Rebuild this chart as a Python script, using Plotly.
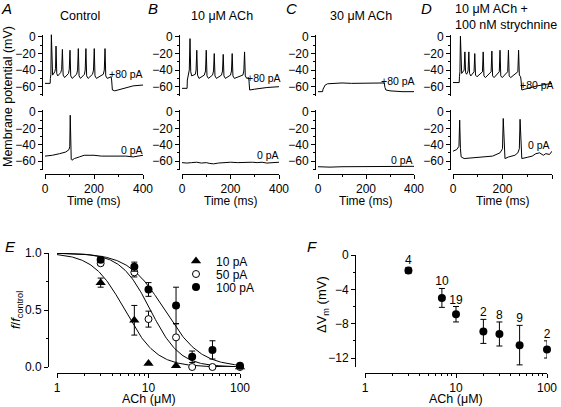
import numpy as np
import plotly.graph_objects as go

W, H = 561, 407
FONT = "Liberation Sans, Arial, sans-serif"


def px(x):
    return x / W


def py(y):
    return 1 - y / H


# ---------------- Top panels: membrane potential traces (t in ms, V in mV) -------------
# A  Control, +80 pA
A_up_t = [0, 21, 22, 24, 26, 28, 31, 40, 43, 45, 48, 52, 64, 68, 71, 74, 80, 96, 99, 102, 105, 111,
          129, 133, 136, 139, 145, 161, 164, 167, 170, 176, 194, 198, 201, 204, 210, 238, 242, 245,
          248, 254, 270, 272, 275, 285, 320, 360, 400]
A_up_v = [-56, -56, -50, -45, 3, -35, -46, -42, -38, -11, -44, -47, -43, -39, -15, -46, -49, -44, -39,
          -16, -47, -50, -45, -40, -14, -47, -50, -45, -40, -14, -47, -50, -45, -40, -14, -47, -50,
          -45, -40, -14, -47, -50, -48, -52, -64, -65, -62, -59, -58]
# A  Control, 0 pA
A_lo_t = [0, 30, 60, 85, 98, 101, 103, 105, 107, 110, 120, 140, 160, 180, 200, 230, 260, 300, 330,
          360, 380, 400]
A_lo_v = [-54, -53, -51, -49, -46, -42, -4, -40, -58, -59, -57, -55, -53, -53, -53, -54, -54, -54,
          -54, -55, -54, -53]

# B  10 uM ACh, +80 pA
B_up_t = [0, 21, 22, 25, 30, 33, 36, 40, 55, 58, 61, 64, 70, 92, 97, 100, 103, 109, 126, 130, 133,
          136, 142, 163, 167, 170, 173, 179, 200, 204, 207, 210, 216, 251, 255, 258, 261, 267, 274,
          276, 279, 300, 350, 400]
B_up_v = [-62, -62, -52, -48, -40, -2, -42, -47, -45, -40, -16, -46, -50, -46, -41, -16, -47, -50,
          -46, -41, -20, -47, -50, -46, -41, -21, -47, -50, -46, -41, -20, -47, -50, -46, -41, -18,
          -47, -50, -49, -52, -64, -63, -61, -60]
# B  10 uM ACh, 0 pA
B_lo_t = [0, 20, 40, 60, 80, 100, 115, 130, 150, 170, 200, 230, 260, 290, 310, 330, 350, 370, 400]
B_lo_v = [-62, -62.5, -62, -61.5, -62.5, -62, -63, -63.5, -62.5, -62, -61.5, -62, -61.5, -61.5, -62,
          -61.5, -62.5, -62, -61.5]

# C  30 uM ACh, +80 pA
C_up_t = [0, 19, 21, 25, 30, 40, 60, 100, 140, 180, 220, 260, 276, 279, 283, 300, 350, 400]
C_up_v = [-66, -66, -63, -60, -58, -56.5, -56, -55.5, -56, -56, -56, -56, -55.5, -61, -64, -65, -66,
          -66]
# C  30 uM ACh, 0 pA
C_lo_t = [0, 50, 100, 150, 200, 250, 300, 350, 400]
C_lo_v = [-67, -67.5, -67, -67, -67, -66.5, -67, -66.5, -66.5]

# D  10 uM ACh + 100 nM strychnine, +80 pA
D_up_t = [0, 25, 26, 28, 30, 32, 35, 45, 48, 51, 55, 61, 64, 67, 72, 85, 88, 91, 97, 119, 122, 125,
          131, 154, 157, 160, 166, 187, 190, 193, 199, 221, 224, 227, 233, 262, 265, 268, 273, 275,
          278, 290, 340, 400]
D_up_v = [-55, -55, -48, -42, 1, -38, -44, -40, -18, -43, -45, -41, -18, -44, -47, -42, -20, -46,
          -48, -42, -18, -47, -49, -42, -17, -47, -49, -42, -16, -47, -49, -42, -16, -47, -49, -42,
          -16, -46, -48, -52, -64, -63, -59, -56]
# D  10 uM ACh + 100 nM strychnine, 0 pA
D_lo_t = [0, 15, 24, 27, 30, 33, 45, 80, 120, 160, 190, 200, 203, 206, 210, 225, 250, 262, 268, 271,
          274, 278, 300, 320, 335, 350, 365, 375, 390, 400]
D_lo_v = [-48, -46, -42, -10, -45, -55, -57, -56, -55.5, -54, -50, -45, -8, -45, -57, -55, -53, -50,
          -45, -9, -45, -57, -55.5, -54, -51, -50, -53, -51, -52, -48]

# ---------------- Panel E: f/f_control vs ACh (uM) ----------------
E10_x = [3, 7, 10, 20, 100]
E10_y = [0.74, 0.41, 0.03, 0.01, 0.0]
E10_e = [0.04, 0.13, 0.0, 0.0, 0.0]

E50_x = [3, 7, 10, 20, 30, 50, 100]
E50_y = [0.91, 0.83, 0.42, 0.26, 0.0, 0.0, 0.0]
E50_ep = [0.02, 0.04, 0.07, 0.12, 0.0, 0.0, 0.0]
E50_em = [0.02, 0.04, 0.07, 0.26, 0.0, 0.0, 0.0]

E100_x = [3, 7, 10, 20, 30, 50, 100]
E100_y = [0.94, 0.88, 0.68, 0.54, 0.09, 0.15, 0.01]
E100_e = [0.02, 0.04, 0.06, 0.16, 0.05, 0.08, 0.0]

# Hill fit parameters (IC50 in uM, Hill coefficient)
FIT_IC50 = {"10 pA": 5.5, "50 pA": 10.5, "100 pA": 15.0}
FIT_N = {"10 pA": 2.5, "50 pA": 2.7, "100 pA": 2.2}

# ---------------- Panel F: delta Vm vs ACh ----------------
F_x = [3, 7, 10, 20, 30, 50, 100]
F_y = [-1.8, -5.0, -6.9, -8.9, -9.2, -10.5, -11.0]
F_e = [0.35, 1.1, 0.9, 1.4, 1.4, 2.3, 1.0]
F_n = ["4", "10", "19", "2", "8", "9", "2"]

# ---------------------------------------------------------------------------------
fig = go.Figure()
LINE = dict(color="black", width=1)

cols = [
    ("A", (45, 143), A_up_t, A_up_v, A_lo_t, A_lo_v),
    ("B", (182, 279), B_up_t, B_up_v, B_lo_t, B_lo_v),
    ("C", (318, 414), C_up_t, C_up_v, C_lo_t, C_lo_v),
    ("D", (453, 552), D_up_t, D_up_v, D_lo_t, D_lo_v),
]

axis_common = dict(showline=True, linecolor="black", linewidth=1, ticks="outside",
                   tickcolor="black", ticklen=4, tickwidth=1, showgrid=False, zeroline=False,
                   automargin=False,
                   tickfont=dict(family=FONT, size=12, color="black"))

layout = dict(width=W, height=H, margin=dict(l=0, r=0, t=0, b=0, autoexpand=False),
              paper_bgcolor="white", plot_bgcolor="white", template="none",
              font=dict(family=FONT, size=12, color="black"))

for i, (lab, (x0, x1), ut, uv, lt, lv) in enumerate(cols):
    xi = i + 1
    yu = i + 1
    yl = i + 5
    layout[f"xaxis{xi}"] = dict(axis_common, domain=[px(x0), px(x1)], range=[0, 400],
                                anchor="free", position=py(174), tickvals=[0, 200, 400],
                                minor=dict(tickvals=[100, 300], ticks="outside", ticklen=2,
                                           tickcolor="black"))
    ymin, ymax = -71, 3
    layout[f"yaxis{yu}"] = dict(axis_common, domain=[py(95.8), py(34.5)], range=[ymin, ymax],
                                anchor="free", position=px(x0 - 3), tickvals=[0, -20, -40, -60],
                                minor=dict(tickvals=[-10, -30, -50, -70], ticks="outside",
                                           ticklen=2, tickcolor="black"))
    layout[f"yaxis{yl}"] = dict(axis_common, domain=[py(170), py(109.5)], range=[ymin, ymax],
                                anchor="free", position=px(x0 - 3), tickvals=[0, -20, -40, -60],
                                minor=dict(tickvals=[-10, -30, -50, -70], ticks="outside",
                                           ticklen=2, tickcolor="black"))
    xs = "x" if xi == 1 else f"x{xi}"
    fig.add_trace(go.Scatter(x=ut, y=uv, mode="lines", line=LINE, xaxis=xs,
                             yaxis="y" if yu == 1 else f"y{yu}", showlegend=False,
                             hoverinfo="skip"))
    fig.add_trace(go.Scatter(x=lt, y=lv, mode="lines", line=LINE, xaxis=xs, yaxis=f"y{yl}",
                             showlegend=False, hoverinfo="skip"))

# ---------------- Panel E ----------------
layout["xaxis9"] = dict(axis_common, type="log", domain=[px(57), px(240)], range=[0, 2],
                        anchor="free", position=py(373), tickvals=[1, 10, 100],
                        ticktext=["1", "10", "100"],
                        minor=dict(tickvals=[2, 3, 4, 5, 6, 7, 8, 9, 20, 30, 40, 50, 60, 70, 80, 90],
                                   ticks="outside", ticklen=2, tickcolor="black"))
layout["yaxis9"] = dict(axis_common, domain=[py(367), py(253)], range=[0, 1], anchor="free",
                        position=px(48), tickvals=[0, 0.5, 1], ticktext=["0.0", "0.5", "1.0"],
                        minor=dict(tickvals=[0.25, 0.75], ticks="outside", ticklen=2,
                                   tickcolor="black"))

conc = np.logspace(0, 2, 200)
for key in ["10 pA", "50 pA", "100 pA"]:
    fit = 1.0 / (1.0 + (conc / FIT_IC50[key]) ** FIT_N[key])
    fig.add_trace(go.Scatter(x=conc, y=fit, mode="lines", line=LINE, xaxis="x9", yaxis="y9",
                             showlegend=False, hoverinfo="skip", cliponaxis=False))

EB = dict(type="data", color="black", thickness=1, width=3)
fig.add_trace(go.Scatter(x=E10_x, y=E10_y, mode="markers", name="10 pA", legend="legend",
                         marker=dict(symbol="triangle-up", size=9, color="black"),
                         error_y=dict(EB, array=E10_e), xaxis="x9", yaxis="y9",
                         cliponaxis=False))
fig.add_trace(go.Scatter(x=E50_x, y=E50_y, mode="markers", name="50 pA", legend="legend2",
                         marker=dict(symbol="circle", size=7, color="white",
                                     line=dict(color="black", width=1)),
                         error_y=dict(EB, symmetric=False, array=E50_ep, arrayminus=E50_em),
                         xaxis="x9", yaxis="y9", cliponaxis=False))
fig.add_trace(go.Scatter(x=E100_x, y=E100_y, mode="markers", name="100 pA", legend="legend3",
                         marker=dict(symbol="circle", size=8, color="black"),
                         error_y=dict(EB, array=E100_e), xaxis="x9", yaxis="y9",
                         cliponaxis=False))

# ---------------- Panel F ----------------
layout["xaxis10"] = dict(axis_common, type="log", domain=[px(365), px(547)], range=[0, 2],
                         anchor="free", position=py(373), tickvals=[1, 10, 100],
                         ticktext=["1", "10", "100"],
                         minor=dict(tickvals=[2, 3, 4, 5, 6, 7, 8, 9, 20, 30, 40, 50, 60, 70, 80, 90],
                                    ticks="outside", ticklen=2, tickcolor="black"))
layout["yaxis10"] = dict(axis_common, domain=[py(366.6), py(255)], range=[-13, 0], anchor="free",
                         position=px(355), tickvals=[0, -4, -8, -12],
                         minor=dict(tickvals=[-2, -6, -10], ticks="outside", ticklen=2,
                                    tickcolor="black"))
fig.add_trace(go.Scatter(x=F_x, y=F_y, mode="markers",
                         marker=dict(symbol="circle", size=8, color="black"),
                         error_y=dict(EB, array=F_e), xaxis="x10", yaxis="y10",
                         showlegend=False, cliponaxis=False))
fig.add_trace(go.Scatter(x=F_x, y=[m + e for m, e in zip(F_y, F_e)], mode="text", text=F_n,
                         textposition="top center", textfont=dict(family=FONT, size=12),
                         xaxis="x10", yaxis="y10", showlegend=False, cliponaxis=False))

layout["showlegend"] = True
LEG = dict(xanchor="left", yanchor="middle", bgcolor="rgba(0,0,0,0)", borderwidth=0,
           font=dict(family=FONT, size=12), itemwidth=30)
layout["legend"] = dict(LEG, x=px(176), y=py(261))
layout["legend2"] = dict(LEG, x=px(176), y=py(274))
layout["legend3"] = dict(LEG, x=px(176), y=py(287))

# ---------------- Text annotations ----------------
ann = []


def text(x, y, s, size=12.5, angle=0, xanchor="center", italic=False):
    ann.append(dict(x=px(x), y=py(y), xref="paper", yref="paper", text=s, showarrow=False,
                    xanchor=xanchor, yanchor="middle", textangle=angle,
                    font=dict(family=FONT, size=size, color="black",
                              style="italic" if italic else "normal")))


for lab, xx in [("A", 6), ("B", 153), ("C", 291), ("D", 426), ]:
    text(xx, 8, lab, size=15, italic=True)
text(10, 246, "E", size=15, italic=True)
text(312, 246, "F", size=15, italic=True)

text(80, 16, "Control", size=12.5)
text(222, 16, "10 μM ACh", size=12.5)
text(361, 16, "30 μM ACh", size=12.5)
text(453, 9, "10 μM ACh +", size=12.5, xanchor="left")
text(453, 25, "100 nM strychnine", size=12.5, xanchor="left")

text(8, 97, "Membrane potential (mV)", size=12.5, angle=-90)
for lab, (x0, x1), *_ in cols:
    text((x0 + x1) / 2, 201, "Time (ms)", size=12)

for (x0, x1), ylab_up, ylab_lo, lo_right in [((113, 145), 74, 150, 145), ((250, 283), 78, 155, 281),
                                              ((387, 417), 81, 160, 415), ((522, 556), 85, 145, 552)]:
    text(x1, ylab_up, "+80 pA", size=10.5, xanchor="right")
    text(lo_right, ylab_lo, "0 pA", size=10.5, xanchor="right")

text(149, 399, "ACh (μM)", size=12.5)
text(456, 399, "ACh (μM)", size=12.5)
text(16, 310, "<i>f</i>/<i>f</i><sub>control</sub>", size=13, angle=-90)
text(322, 305, "ΔV<sub>m</sub> (mV)", size=13, angle=-90)

layout["annotations"] = ann
fig.update_layout(**layout)
fig.write_html("out.html", config={"displayModeBar": False},
               post_script="document.body.style.margin='0px';")
